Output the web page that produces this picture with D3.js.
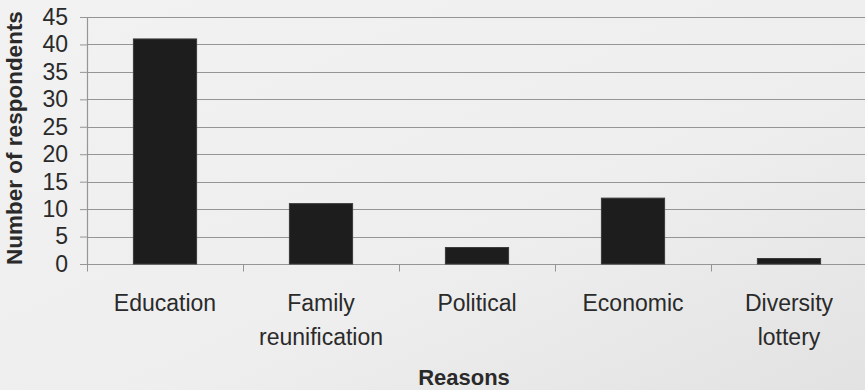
<!DOCTYPE html>
<html>
<head>
<meta charset="utf-8">
<script src="https://cdn.jsdelivr.net/npm/d3@7"></script>
<style>
  html, body { margin: 0; padding: 0; background: #efefef; }
  svg { display: block; }
</style>
</head>
<body>
<div id="chart"></div>
<script>
// values
const reasons = ['Education', 'Family reunification', 'Political', 'Economic', 'Diversity lottery'];
const labelLines = [['Education'], ['Family', 'reunification'], ['Political'], ['Economic'], ['Diversity', 'lottery']];
const respondents = [41, 11, 3, 12, 1];
const yTicks = [0, 5, 10, 15, 20, 25, 30, 35, 40, 45];

const W = 865, H = 390;
const margin = { top: 17, right: -2, bottom: 126, left: 87 };
const width = W - margin.left - margin.right;
const height = H - margin.top - margin.bottom;

const svg = d3.select('#chart').append('svg')
  .attr('width', W)
  .attr('height', H)
  .style('font-family', 'Arial, "Liberation Sans", sans-serif');

// scanned paper look
const defs = svg.append('defs');
const grad = defs.append('linearGradient').attr('id', 'paper')
  .attr('x1', '0%').attr('y1', '0%').attr('x2', '100%').attr('y2', '100%');
grad.append('stop').attr('offset', '0%').attr('stop-color', '#f2f2f2');
grad.append('stop').attr('offset', '60%').attr('stop-color', '#eeeeee');
grad.append('stop').attr('offset', '100%').attr('stop-color', '#e2e2e2');
svg.append('rect').attr('width', W).attr('height', H).attr('fill', 'url(#paper)');

const g = svg.append('g').attr('transform', `translate(${margin.left},${margin.top})`);

const x = d3.scaleBand().domain(reasons).range([0, width]).paddingInner(0.595).paddingOuter(0.2975);
const y = d3.scaleLinear().domain([0, 45]).range([height, 0]);

// gridlines
g.append('g')
  .selectAll('line')
  .data(yTicks)
  .enter()
  .append('line')
    .attr('x1', 0)
    .attr('x2', width)
    .attr('y1', d => Math.round(y(d)) + 0.5)
    .attr('y2', d => Math.round(y(d)) + 0.5)
    .attr('stroke', '#959595')
    .attr('stroke-width', 1.2);

// y axis
const yAxis = g.append('g')
  .call(d3.axisLeft(y).tickValues(yTicks).tickSize(7).tickPadding(12));
yAxis.select('.domain').attr('stroke', '#959595').attr('stroke-width', 1.2);
yAxis.selectAll('.tick line').attr('stroke', '#959595');
yAxis.selectAll('.tick text')
  .attr('font-size', 23)
  .attr('fill', '#2a2a2a')
  .attr('font-family', 'Arial, "Liberation Sans", sans-serif');

// x axis: ticks sit on the category boundaries
const bounds = d3.range(reasons.length + 1).map(i => i * width / reasons.length);
const xAxis = g.append('g').attr('transform', `translate(0,${Math.round(height) + 0.5})`);
xAxis.append('line')
  .attr('x1', 0).attr('x2', width)
  .attr('stroke', '#959595').attr('stroke-width', 1.2);
xAxis.selectAll('.xtick')
  .data(bounds)
  .enter()
  .append('line')
    .attr('class', 'xtick')
    .attr('x1', d => Math.round(d) + 0.5)
    .attr('x2', d => Math.round(d) + 0.5)
    .attr('y1', 0)
    .attr('y2', 7)
    .attr('stroke', '#959595');

// bars
g.selectAll('.bar')
  .data(respondents)
  .enter()
  .append('rect')
    .attr('class', 'bar')
    .attr('x', (d, i) => x(reasons[i]))
    .attr('y', d => y(d))
    .attr('width', x.bandwidth())
    .attr('height', d => y(0) - y(d))
    .attr('fill', '#1d1d1d')
    .attr('stroke', '#3a3a3a')
    .attr('stroke-width', 1);

// category labels
const cats = g.selectAll('.cat')
  .data(labelLines)
  .enter()
  .append('text')
    .attr('class', 'cat')
    .attr('text-anchor', 'middle')
    .attr('font-size', 23)
    .attr('fill', '#2a2a2a')
    .attr('transform', (d, i) => `translate(${x(reasons[i]) + x.bandwidth() / 2},${height + 47})`);
cats.selectAll('tspan')
  .data(d => d)
  .enter()
  .append('tspan')
    .attr('x', 0)
    .attr('y', (d, j) => j * 34)
    .text(d => d);

// axis titles
svg.append('text')
  .attr('x', margin.left + width / 2 - 13)
  .attr('y', 385)
  .attr('text-anchor', 'middle')
  .attr('font-size', 22)
  .attr('font-weight', 'bold')
  .attr('fill', '#2a2a2a')
  .text('Reasons');

svg.append('text')
  .attr('transform', 'translate(22,138) rotate(-90)')
  .attr('text-anchor', 'middle')
  .attr('font-size', 22.5)
  .attr('font-weight', 'bold')
  .attr('fill', '#2a2a2a')
  .text('Number of respondents');
</script>
</body>
</html>
